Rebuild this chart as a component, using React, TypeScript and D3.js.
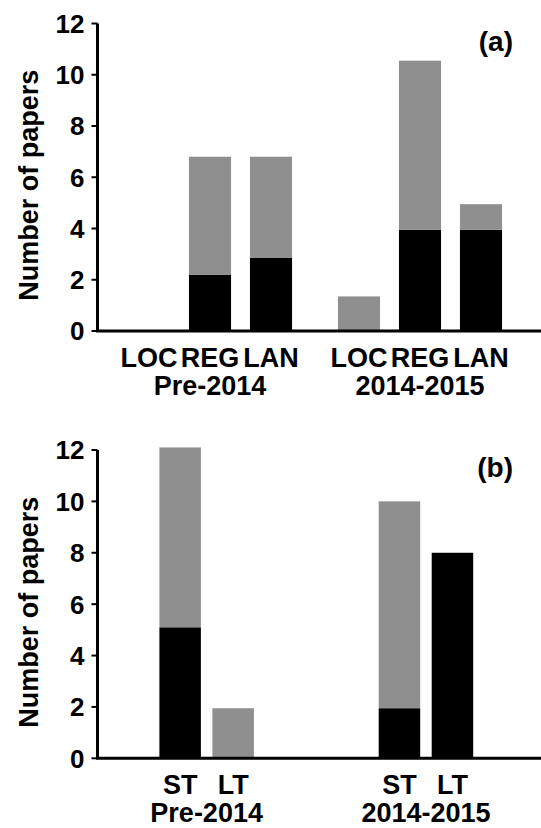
import React from 'react';
import * as d3 from 'd3';

// panel (a): spatial scale of the studies
const groups = ['Pre-2014', '2014-2015'];
const scaleCats = ['LOC', 'REG', 'LAN'];
const scaleBlack = [0, 2.2, 2.85, 0, 3.95, 3.95];
const scaleGray = [0, 4.6, 3.95, 1.35, 6.6, 1.0];

// panel (b): temporal scale
const termCats = ['ST', 'LT'];
const termBlack = [5.1, 0, 1.95, 8.0];
const termGray = [7.0, 1.95, 8.05, 0];

const yTicks = [0, 2, 4, 6, 8, 10, 12];

const W = 541;
const H = 828;
const FONT = 'Arial, "Liberation Sans", sans-serif';
const GRAY = '#8f8f8f';

type PanelProps = {
  cats: string[];
  black: number[];
  gray: number[];
  tag: string;
  y0: number;
  y12: number;
  outerRange: [number, number];
  innerHalf: number;
  innerPad: number;
};

const Panel = ({ cats, black, gray, tag, y0, y12, outerRange, innerHalf, innerPad }: PanelProps) => {
  const axisX = 97.5;
  const y = d3.scaleLinear().domain([0, 12]).range([y0, y12]);
  const outer = d3.scaleBand().domain(groups).range(outerRange).padding(0);
  const inner = d3.scaleBand().domain(cats).range([-innerHalf, innerHalf])
    .paddingInner(innerPad).paddingOuter(innerPad / 2);

  const rows = groups.flatMap((g, gi) => cats.map((c, ci) => ({
    group: g, cat: c,
    black: black[gi * cats.length + ci],
    gray: gray[gi * cats.length + ci],
  })));
  const stacked = d3.stack().keys(['black', 'gray'])(rows as any);
  const xOf = (d: any) => outer(d.group)! + outer.bandwidth() / 2 + inner(d.cat)!;
  const fills = ['#000', GRAY];

  return (
    <g fontFamily={FONT} fontWeight="bold">
      {stacked.map((layer, li) => (
        <g key={li} fill={fills[li]}>
          {layer.filter(s => s[1] - s[0] > 0).map((s, i) => (
            <rect key={i} x={xOf(s.data)} width={inner.bandwidth()}
              y={y(s[1])} height={y(s[0]) - y(s[1])} />
          ))}
        </g>
      ))}
      {/* axes */}
      <line x1={axisX} x2={axisX} y1={y(12)} y2={y(0)} stroke="#000" strokeWidth={3} />
      <line x1={axisX - 1.5} x2={W} y1={y(0)} y2={y(0)} stroke="#000" strokeWidth={3} />
      {yTicks.map(t => (
        <g key={t}>
          <line x1={axisX - 6} x2={axisX} y1={y(t)} y2={y(t)} stroke="#000" strokeWidth={2} />
          <text x={axisX - 13} y={y(t)} dy="0.36em" textAnchor="end" fontSize={26}>{t}</text>
        </g>
      ))}
      <text transform={`translate(38,${(y(0) + y(12)) / 2 + 8}) rotate(-90)`}
        textAnchor="middle" fontSize={27}>Number of papers</text>
      {rows.map((d, i) => (
        <text key={i} x={xOf(d) + inner.bandwidth() / 2} y={y0 + 36}
          textAnchor="middle" fontSize={27}>{d.cat}</text>
      ))}
      {groups.map(g => (
        <text key={g} x={outer(g)! + outer.bandwidth() / 2} y={y0 + 64}
          textAnchor="middle" fontSize={27}>{g}</text>
      ))}
      <text x={513} y={y12 + 27} textAnchor="end" fontSize={28}>{tag}</text>
    </g>
  );
};

export default function App() {
  return (
    <svg width={W} height={H} style={{ position: 'absolute', left: 0, top: 0, background: '#fff' }}>
      <rect width={W} height={H} fill="#fff" />
      <Panel cats={scaleCats} black={scaleBlack} gray={scaleGray} tag="(a)"
        y0={331} y12={23.5} outerRange={[105, 525]} innerHalf={91.5} innerPad={0.31} />
      <Panel cats={termCats} black={termBlack} gray={termGray} tag="(b)"
        y0={758.3} y12={450} outerRange={[97, 535.6]} innerHalf={53} innerPad={0.217} />
    </svg>
  );
}
